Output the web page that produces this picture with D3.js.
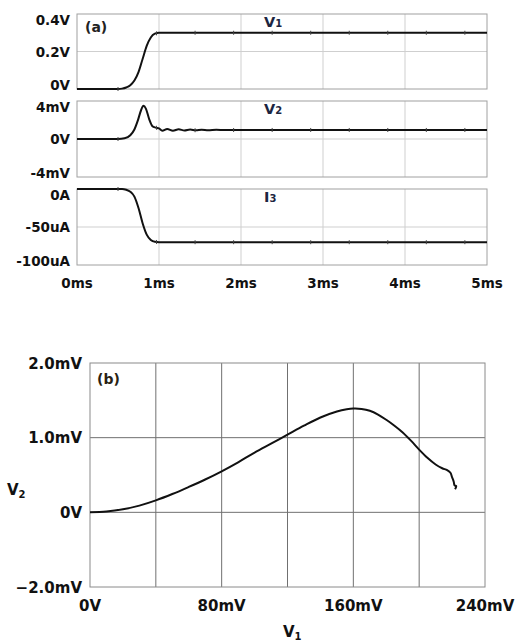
<!DOCTYPE html>
<html>
<head>
<meta charset="utf-8">
<script src="https://cdn.jsdelivr.net/npm/d3@7"></script>
<style>
  body { margin: 0; background: #fff; }
  text { font-family: "DejaVu Sans", sans-serif; font-weight: bold; }
</style>
</head>
<body>
<script>
// panel (a): time traces
const timeTicks = [0, 1, 2, 3, 4, 5]
const timeLabels = ['0ms', '1ms', '2ms', '3ms', '4ms', '5ms']
const markerTimes = [0.5, 0.97, 1.44, 1.91, 2.38, 2.85, 3.32, 3.79, 4.26, 4.73]

const v1Ticks = [0, 0.2, 0.4]
const v1Labels = ['0V', '0.2V', '0.4V']
const v1Data = [[0, 0], [0.5, 0], [0.55, 0.002], [0.6, 0.008], [0.65, 0.02], [0.7, 0.045],
  [0.75, 0.09], [0.8, 0.16], [0.85, 0.23], [0.9, 0.275], [0.95, 0.295], [1.0, 0.3], [5, 0.3]]

const v2Ticks = [-4, 0, 4]
const v2Labels = ['-4mV', '0V', '4mV']
const v2Data = [[0, 0], [0.5, 0], [0.58, 0.08], [0.65, 0.4], [0.7, 1.0], [0.74, 1.9], [0.78, 3.0],
  [0.81, 3.5], [0.84, 3.2], [0.88, 2.1], [0.92, 1.35], [0.96, 1.2], [1.0, 1.12], [1.04, 0.88],
  [1.1, 1.05], [1.17, 0.87], [1.24, 1.02], [1.31, 0.9], [1.38, 1.0], [1.45, 0.91], [1.52, 0.98],
  [1.6, 0.93], [1.7, 0.97], [1.8, 0.94], [2, 0.95], [5, 0.95]]

const i3Ticks = [-100, -50, 0]
const i3Labels = ['-100uA', '-50uA', '0A']
const i3Data = [[0, 0], [0.55, 0], [0.6, -1], [0.65, -3.5], [0.7, -10], [0.75, -25], [0.8, -45],
  [0.85, -60], [0.9, -67], [0.95, -69.5], [1.0, -70], [5, -70]]

// panel (b): V2 versus V1
const v1AxisTicks = [0, 80, 160, 240]
const v1AxisLabels = ['0V', '80mV', '160mV', '240mV']
const v1Grid = [40, 80, 120, 160, 200]
const v2AxisTicks = [-1, 0, 1, 2]
const v2AxisLabels = ['\u22122.0mV', '0V', '1.0mV', '2.0mV']
const v2Grid = [0, 1]
const curveData = [[0, 0], [10, 0.01], [20, 0.04], [30, 0.09], [40, 0.16], [50, 0.245], [60, 0.34],
  [70, 0.44], [80, 0.55], [90, 0.67], [100, 0.8], [110, 0.92], [120, 1.04], [130, 1.16], [140, 1.27],
  [150, 1.35], [156, 1.38], [160, 1.39], [165, 1.385], [170, 1.36], [175, 1.31], [180, 1.24],
  [185, 1.16], [190, 1.07], [195, 0.96], [200, 0.84], [205, 0.73], [210, 0.64], [214, 0.59],
  [217, 0.565], [219, 0.53], [220, 0.47], [221, 0.41], [221.5, 0.36], [222.5, 0.35], [221.8, 0.31]]

const svg = d3.select('body').append('svg')
  .attr('width', 517)
  .attr('height', 642)

let x = d3.scaleLinear().domain([0, 5]).range([77, 487])

let subplots = [
  { data: v1Data, domain: [0, 0.4], ticks: v1Ticks, labels: v1Labels, top: 14, bottom: 89, name: 'V', sub: '1' },
  { data: v2Data, domain: [-4, 4], ticks: v2Ticks, labels: v2Labels, top: 101, bottom: 177, name: 'V', sub: '2' },
  { data: i3Data, domain: [-100, 0], ticks: i3Ticks, labels: i3Labels, top: 189, bottom: 265, name: 'I', sub: '3' }
]

function valueAt (data, t) {
  let i = d3.bisector(d => d[0]).left(data, t)
  if (i <= 0) return data[0][1]
  if (i >= data.length) return data[data.length - 1][1]
  let a = data[i - 1]
  let b = data[i]
  return a[1] + (b[1] - a[1]) * (t - a[0]) / (b[0] - a[0])
}

subplots.forEach(p => {
  let y = d3.scaleLinear().domain(p.domain).range([p.bottom, p.top])
  let g = svg.append('g')

  g.selectAll('.vgrid')
    .data(timeTicks.slice(1, -1))
    .enter()
    .append('line')
    .attr('x1', d => x(d)).attr('x2', d => x(d))
    .attr('y1', p.top).attr('y2', p.bottom)
    .attr('stroke', '#cfcfcf')

  g.append('line')
    .attr('x1', x(0)).attr('x2', x(5))
    .attr('y1', y(p.ticks[1])).attr('y2', y(p.ticks[1]))
    .attr('stroke', '#cfcfcf')

  g.append('rect')
    .attr('x', x(0)).attr('y', p.top)
    .attr('width', x(5) - x(0)).attr('height', p.bottom - p.top)
    .attr('fill', 'none')
    .attr('stroke', '#a0a0a0')

  g.append('path')
    .datum(p.data)
    .attr('fill', 'none')
    .attr('stroke', '#111')
    .attr('stroke-width', 2)
    .attr('d', d3.line().x(d => x(d[0])).y(d => y(d[1])).curve(d3.curveMonotoneX))

  g.selectAll('.mark')
    .data(markerTimes)
    .enter()
    .append('line')
    .attr('x1', d => x(d)).attr('x2', d => x(d))
    .attr('y1', d => y(valueAt(p.data, d)) - 2)
    .attr('y2', d => y(valueAt(p.data, d)) + 2)
    .attr('stroke', '#444')
    .attr('stroke-width', 1)

  // tick labels, top one dropped inside, bottom one lifted
  g.selectAll('.ylab')
    .data(p.ticks)
    .enter()
    .append('text')
    .attr('x', 70)
    .attr('y', (d, i) => i === 2 ? y(d) + 11 : i === 1 ? y(d) + 5 : y(d) + 1)
    .attr('text-anchor', 'end')
    .attr('font-size', 13.5)
    .attr('fill', '#111')
    .text((d, i) => p.labels[i])

  let lab = g.append('text')
    .attr('x', 264)
    .attr('y', p.top + 13)
    .attr('font-family', '"Liberation Sans", sans-serif')
    .attr('font-size', 14.5)
    .attr('fill', '#1c2541')
  lab.append('tspan').text(p.name)
  lab.append('tspan').attr('font-size', 10).text(p.sub)
})

svg.selectAll('.xlab')
  .data(timeTicks)
  .enter()
  .append('text')
  .attr('x', d => x(d))
  .attr('y', 288)
  .attr('text-anchor', 'middle')
  .attr('font-size', 13.5)
  .attr('fill', '#111')
  .text((d, i) => timeLabels[i])

svg.append('text')
  .attr('x', 85).attr('y', 32)
  .attr('font-size', 14)
  .attr('fill', '#222')
  .text('(a)')

// panel (b)
let bx = d3.scaleLinear().domain([0, 240]).range([90, 485])
let by = d3.scaleLinear().domain([-1, 2]).range([587, 363])
let gb = svg.append('g')

gb.selectAll('.bv')
  .data(v1Grid)
  .enter()
  .append('line')
  .attr('x1', d => bx(d)).attr('x2', d => bx(d))
  .attr('y1', by(2)).attr('y2', by(-1))
  .attr('stroke', '#707070')

gb.selectAll('.bh')
  .data(v2Grid)
  .enter()
  .append('line')
  .attr('x1', bx(0)).attr('x2', bx(240))
  .attr('y1', d => by(d)).attr('y2', d => by(d))
  .attr('stroke', '#707070')

gb.append('rect')
  .attr('x', bx(0)).attr('y', by(2))
  .attr('width', bx(240) - bx(0)).attr('height', by(-1) - by(2))
  .attr('fill', 'none')
  .attr('stroke', '#8a8a8a')

gb.append('path')
  .datum(curveData)
  .attr('fill', 'none')
  .attr('stroke', '#111')
  .attr('stroke-width', 2)
  .attr('d', d3.line().x(d => bx(d[0])).y(d => by(d[1])).curve(d3.curveCatmullRom))

gb.selectAll('.bylab')
  .data(v2AxisTicks)
  .enter()
  .append('text')
  .attr('x', 82)
  .attr('y', d => by(d) + 5.5)
  .attr('text-anchor', 'end')
  .attr('font-size', 15)
  .attr('fill', '#111')
  .text((d, i) => v2AxisLabels[i])

gb.selectAll('.bxlab')
  .data(v1AxisTicks)
  .enter()
  .append('text')
  .attr('x', d => bx(d))
  .attr('y', 611)
  .attr('text-anchor', 'middle')
  .attr('font-size', 15)
  .attr('fill', '#111')
  .text((d, i) => v1AxisLabels[i])

let xt = gb.append('text').attr('x', 283).attr('y', 637).attr('font-size', 15).attr('fill', '#111')
xt.append('tspan').text('V')
xt.append('tspan').attr('font-size', 10).attr('dy', 3).text('1')

let yt = gb.append('text').attr('x', 7).attr('y', 495).attr('font-size', 15).attr('fill', '#111')
yt.append('tspan').text('V')
yt.append('tspan').attr('font-size', 10).attr('dy', 3).text('2')

gb.append('text')
  .attr('x', 97).attr('y', 384)
  .attr('font-size', 14)
  .attr('fill', '#2a1f14')
  .text('(b)')
</script>
</body>
</html>
